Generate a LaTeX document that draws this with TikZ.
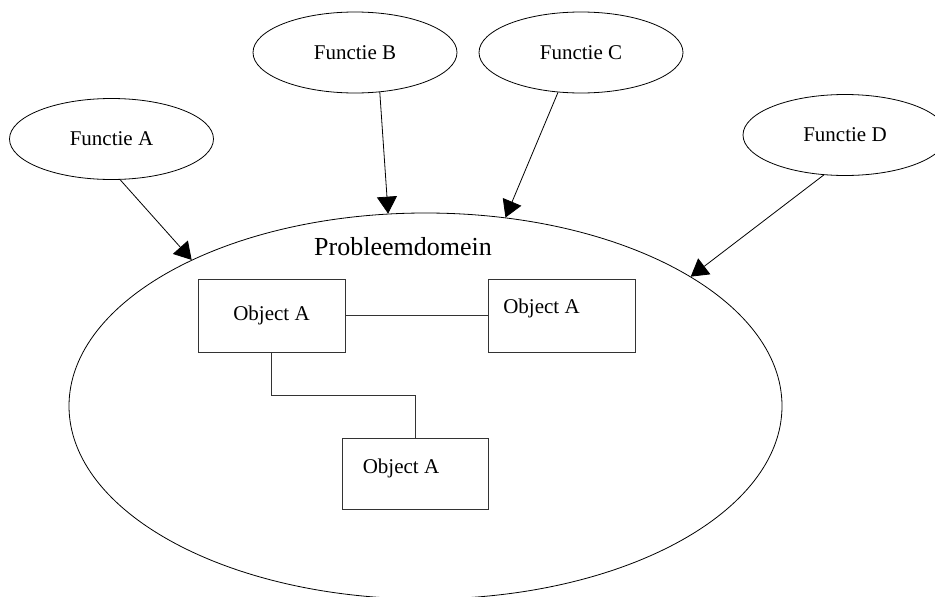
\documentclass[tikz,border=0pt]{standalone}
\usepackage{fontspec}
\setmainfont{Liberation Serif}
\usetikzlibrary{shapes.geometric,arrows.meta}

\tikzset{
  funcnode/.style={draw, ellipse, line width=0.8pt, minimum width=204pt, minimum height=81pt,
    inner sep=0pt, font=\fontsize{21}{24}\selectfont},
  domainshape/.style={draw, ellipse, line width=0.8pt, minimum width=713pt, minimum height=386pt, inner sep=0pt},
  objbox/.style={draw=black!80, rectangle, line width=1pt, minimum width=147pt, minimum height=73pt,
    inner sep=0pt, font=\fontsize{21}{24}\selectfont},
  objtext/.style={font=\fontsize{21}{24}\selectfont},
  flow/.style={line width=0.8pt, -{Triangle[length=17pt,width=20pt]}},
  link/.style={draw=black!80, line width=1pt},
}

\begin{document}
\begin{tikzpicture}[x=1pt, y=-1pt]
  \useasboundingbox (0,0) rectangle (935,597);
  \fill[white] (0,0) rectangle (935,597);
  \clip (0,0) rectangle (935,597);

  % problem domain
  \node[domainshape] (dom) at (425.5,406) {};
  \node[font=\fontsize{26}{30}\selectfont] (title) at (403,247) {Probleemdomein};

  % functions
  \node[funcnode] (fa) at (111.5,139) {Functie A};
  \node[funcnode] (fb) at (355,52.5) {Functie B};
  \node[funcnode] (fc) at (581,52.5) {Functie C};
  \node[funcnode] (fd) at (845,135) {Functie D};

  \draw[flow] (fa.-78) -- (dom.148);
  \draw[flow] (fb.-58) -- (dom.101);
  \draw[flow] (fc.-120) -- (dom.67);
  \draw[flow] (fd.-118) -- (dom.26.5);

  % objects
  \node[objbox] (o1) at (271.5,315.5) {Object A};
  \node[objbox, label={[objtext, xshift=-20pt, yshift=7.5pt]center:Object A}] (o2) at (561.5,315.5) {};
  \node[objbox, minimum width=146pt, minimum height=71pt,
        label={[objtext, xshift=-14pt, yshift=5.5pt]center:Object A}] (o3) at (415,473.5) {};

  \coordinate (elbow) at (0,395);
  \draw[link] (o1.east) -- (o2.west);
  \draw[link] (o1.south) -- (o1.south |- elbow) -| (o3.north);
\end{tikzpicture}
\end{document}
